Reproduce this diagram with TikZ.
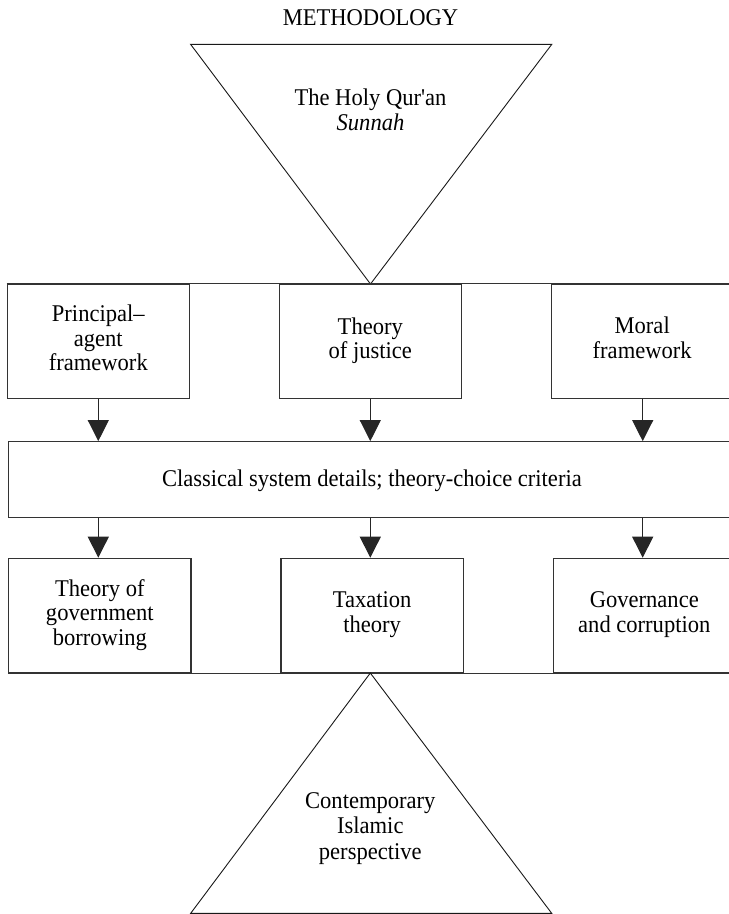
\documentclass[tikz,border=0pt]{standalone}
\usepackage{fontspec}
\setmainfont{Liberation Serif}[FakeStretch=0.94, Ligatures=TeXOff]
\usetikzlibrary{arrows.meta}
\begin{document}
\begin{tikzpicture}[x=1pt,y=-1pt,
  txt/.style={font=\fontsize{24}{24.5}\selectfont, align=center, inner sep=0pt},
  box/.style={draw=black!80, line width=1.2pt, inner sep=0pt, minimum width=182pt, minimum height=114.3pt},
  wide/.style={draw=black!80, line width=1.2pt, inner sep=0pt, minimum width=726.3pt, minimum height=75.6pt},
  edge/.style={draw=black!80, line width=1.2pt},
  tri/.style={draw=black!90, line width=0.9pt, line join=miter},
  arr/.style={draw=black!85, line width=1.1pt, -{Triangle[width=21pt,length=21pt]}}]
\useasboundingbox (0,0) rectangle (729,914);
\clip (0,0) rectangle (729,914);

% title
\node[txt] (meth) at (370.5,17.8) {METHODOLOGY};

% top triangle
\coordinate (t1) at (190.6,44.3);
\coordinate (t2) at (551.8,44.3);
\coordinate (t3) at (370.5,284);
\draw[tri] (t1) -- (t2) -- (t3) -- cycle;
\node[txt] (quran) at (370.5,110) {The Holy Qur'an\\\textit{Sunnah}};

% row 1
\node[box] (pa) at (98.3,341.15) {};
\node[box] (tj) at (370.3,341.15) {};
\node[box] (mf) at (642.7,341.15) {};
\draw[edge] (pa.north west) -- (mf.north east);
\node[txt] (pat) at (98.3,338) {Principal–\\agent\\framework};
\node[txt] (tjt) at (370.3,340.7) {Theory\\of justice};
\node[txt] (mft) at (642.2,338) {Moral\\framework};

% wide box
\node[wide] (cl) at (371.85,479.5) {};
\node[txt] (clt) at (371.9,481) {Classical system details; theory-choice criteria};

% row 2
\node[box, minimum width=182.3pt, minimum height=114.4pt] (gb) at (99.85,615.5) {};
\node[box, minimum width=182.3pt, minimum height=114.4pt] (tx) at (372.15,615.5) {};
\node[box, minimum width=182.3pt, minimum height=114.4pt] (gc) at (644.45,615.5) {};
\draw[edge] (gb.south west) -- (gc.south east);
\node[txt] (gbt) at (99.85,614.7) {Theory of\\government\\borrowing};
\node[txt] (txt1) at (372.15,614.5) {Taxation\\theory};
\node[txt] (gct) at (644.3,614.5) {Governance\\and corruption};

% arrows
\draw[arr] (pa.south) -- (pa.south |- cl.north);
\draw[arr] (tj.south) -- (tj.south |- cl.north);
\draw[arr] (mf.south) -- (mf.south |- cl.north);
\draw[arr] (cl.south -| pa.south) -- (gb.north -| pa.south);
\draw[arr] (cl.south -| tj.south) -- (tx.north -| tj.south);
\draw[arr] (cl.south -| mf.south) -- (gc.north -| mf.south);

% bottom triangle
\coordinate (b1) at (190.7,913.3);
\coordinate (b2) at (551.7,913.3);
\coordinate (b3) at (370.3,673);
\draw[tri] (b1) -- (b2) -- (b3) -- cycle;
\node[txt, font=\fontsize{24}{25.5}\selectfont] (cip) at (370.3,828.2) {Contemporary\\Islamic\\perspective};
\end{tikzpicture}
\end{document}
